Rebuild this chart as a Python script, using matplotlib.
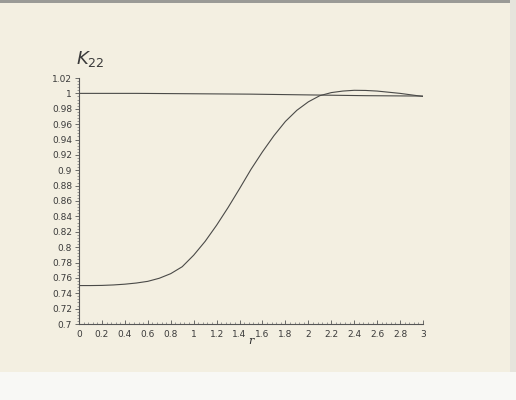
import numpy as np
import matplotlib.pyplot as plt
from matplotlib.ticker import MultipleLocator
from matplotlib.patches import Rectangle

# values
r_vals = [0.0, 0.1, 0.2, 0.3, 0.4, 0.5, 0.6, 0.7, 0.8, 0.9, 1.0,
          1.1, 1.2, 1.3, 1.4, 1.5, 1.6, 1.7, 1.8, 1.9, 2.0,
          2.1, 2.2, 2.3, 2.4, 2.5, 2.6, 2.7, 2.8, 2.9, 3.0]
k22_rising = [0.750, 0.750, 0.7502, 0.7508, 0.7518, 0.7533, 0.7555, 0.7595, 0.7655, 0.7745, 0.7895,
              0.8075, 0.8285, 0.8515, 0.876, 0.9012, 0.924, 0.945, 0.9635, 0.978, 0.989,
              0.997, 1.001, 1.003, 1.004, 1.0038, 1.003, 1.0015, 1.000, 0.998, 0.996]
r_flat = [0.0, 0.5, 1.0, 1.5, 2.0, 2.5, 3.0]
k22_flat = [1.0, 1.0, 0.9995, 0.999, 0.998, 0.997, 0.9965]

x_ticks = [0, 0.2, 0.4, 0.6, 0.8, 1, 1.2, 1.4, 1.6, 1.8, 2, 2.2, 2.4, 2.6, 2.8, 3]
x_labels = ['0', '0.2', '0.4', '0.6', '0.8', '1', '1.2', '1.4', '1.6', '1.8',
            '2', '2.2', '2.4', '2.6', '2.8', '3']
y_ticks = [0.7, 0.72, 0.74, 0.76, 0.78, 0.8, 0.82, 0.84, 0.86, 0.88, 0.9,
           0.92, 0.94, 0.96, 0.98, 1.0, 1.02]
y_labels = ['0.7', '0.72', '0.74', '0.76', '0.78', '0.8', '0.82', '0.84', '0.86',
            '0.88', '0.9', '0.92', '0.94', '0.96', '0.98', '1', '1.02']

paper = '#f3efe1'
ink = '#4a4a48'

fig = plt.figure(figsize=(5.16, 4.0), dpi=100, facecolor=paper)

# scan edges
fig.patches.append(Rectangle((0, 0), 1, 0.07, transform=fig.transFigure,
                             facecolor='#f8f8f5', edgecolor='none', zorder=0))
fig.patches.append(Rectangle((0, 0.992), 1, 0.008, transform=fig.transFigure,
                             facecolor='#9a9a96', edgecolor='none', zorder=0))
fig.patches.append(Rectangle((0.988, 0.07), 0.012, 0.93, transform=fig.transFigure,
                             facecolor='#e6e4dc', edgecolor='none', zorder=0))

ax = fig.add_axes([0.1531, 0.19, 0.6667, 0.615])
ax.set_facecolor('none')

ax.plot(r_flat, k22_flat, color=ink, lw=0.8)
ax.plot(r_vals, k22_rising, color=ink, lw=0.8)

ax.set_xlim(0, 3)
ax.set_ylim(0.7, 1.02)

for side in ['top', 'right']:
    ax.spines[side].set_visible(False)
for side in ['left', 'bottom']:
    ax.spines[side].set_color('#555555')
    ax.spines[side].set_linewidth(0.8)

ax.set_xticks(x_ticks)
ax.set_xticklabels(x_labels)
ax.set_yticks(y_ticks)
ax.set_yticklabels(y_labels)
ax.xaxis.set_minor_locator(MultipleLocator(0.04))
ax.yaxis.set_minor_locator(MultipleLocator(0.004))

ax.tick_params(axis='x', which='major', direction='in', length=3, width=0.6,
               colors='#555555', labelsize=6.5, labelcolor='#3a3a3a', pad=4)
ax.tick_params(axis='x', which='minor', direction='in', length=1.5, width=0.5,
               colors='#777777')
ax.tick_params(axis='y', which='major', direction='out', length=3, width=0.6,
               colors='#555555', labelsize=6.5, labelcolor='#3a3a3a', pad=2)
ax.tick_params(axis='y', which='minor', direction='out', length=1.5, width=0.5,
               colors='#777777')

ax.set_xlabel('r', fontsize=8, family='DejaVu Serif', style='italic',
              color='#2a2a2a', labelpad=-1.5)

fig.text(0.148, 0.84, r'$K_{22}$', fontsize=13, color='#3a3a3a',
         family='DejaVu Sans', style='italic')

fig.savefig('out.png', dpi=100, facecolor=paper)
